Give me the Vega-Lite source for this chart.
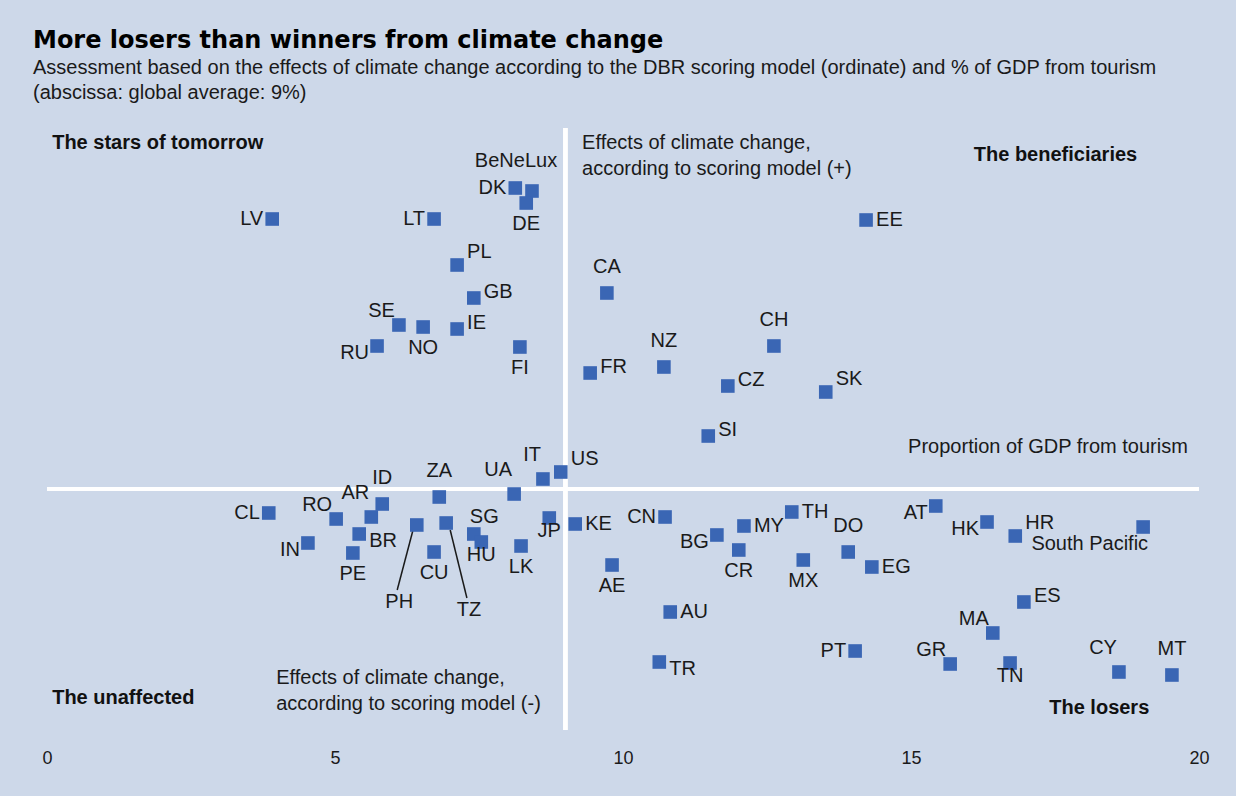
{
  "$schema": "https://vega.github.io/schema/vega-lite/v6.json",
  "width": 1152,
  "height": 602,
  "autosize": {"type": "none"},
  "padding": {"left": 47, "top": 128, "right": 37, "bottom": 66},
  "background": "#cdd8e9",
  "title": {
    "text": "More losers than winners from climate change",
    "subtitle": ["Assessment based on the effects of climate change according to the DBR scoring model (ordinate) and % of GDP from tourism", "(abscissa: global average: 9%)"],
    "anchor": "start",
    "frame": "group",
    "dx": -14,
    "offset": 23,
    "font": "DejaVu Sans",
    "fontSize": 24,
    "fontWeight": "bold",
    "color": "#000000",
    "subtitleFont": "Liberation Sans",
    "subtitleFontSize": 20,
    "subtitleColor": "#1a1a1a",
    "subtitleLineHeight": 25,
    "subtitlePadding": 5
  },
  "datasets": {
    "pts": [
      {"c":"LV","x":3.91,"y":27.0},
      {"c":"LT","x":6.72,"y":27.0},
      {"c":"DK","x":8.13,"y":30.1},
      {"c":"BeNeLux","x":8.42,"y":29.8},
      {"c":"DE","x":8.32,"y":28.6},
      {"c":"PL","x":7.12,"y":22.4},
      {"c":"GB","x":7.41,"y":19.1},
      {"c":"SE","x":6.11,"y":16.4},
      {"c":"NO","x":6.53,"y":16.2},
      {"c":"IE","x":7.12,"y":16.0},
      {"c":"RU","x":5.73,"y":14.3},
      {"c":"FI","x":8.21,"y":14.2},
      {"c":"FR","x":9.43,"y":11.6},
      {"c":"EE","x":14.22,"y":26.9},
      {"c":"CA","x":9.72,"y":19.6},
      {"c":"CH","x":12.62,"y":14.3},
      {"c":"NZ","x":10.71,"y":12.2},
      {"c":"CZ","x":11.82,"y":10.3},
      {"c":"SK","x":13.52,"y":9.7},
      {"c":"SI","x":11.48,"y":5.3},
      {"c":"US","x":8.92,"y":1.7},
      {"c":"IT","x":8.61,"y":1.0},
      {"c":"UA","x":8.11,"y":-0.5},
      {"c":"ZA","x":6.81,"y":-0.8},
      {"c":"ID","x":5.82,"y":-1.5},
      {"c":"AR","x":5.63,"y":-2.8},
      {"c":"RO","x":5.02,"y":-3.0},
      {"c":"CL","x":3.85,"y":-2.4},
      {"c":"JP","x":8.72,"y":-2.9},
      {"c":"KE","x":9.17,"y":-3.5},
      {"c":"PH","x":6.42,"y":-3.6},
      {"c":"TZ","x":6.93,"y":-3.4},
      {"c":"SG","x":7.41,"y":-4.5},
      {"c":"HU","x":7.54,"y":-5.3},
      {"c":"BR","x":5.42,"y":-4.5},
      {"c":"IN","x":4.53,"y":-5.4},
      {"c":"PE","x":5.31,"y":-6.4},
      {"c":"CU","x":6.72,"y":-6.3},
      {"c":"LK","x":8.23,"y":-5.7},
      {"c":"AE","x":9.81,"y":-7.6},
      {"c":"CN","x":10.73,"y":-2.8},
      {"c":"BG","x":11.63,"y":-4.6},
      {"c":"MY","x":12.10,"y":-3.7},
      {"c":"TH","x":12.93,"y":-2.3},
      {"c":"CR","x":12.01,"y":-6.1},
      {"c":"MX","x":13.13,"y":-7.1},
      {"c":"DO","x":13.91,"y":-6.3},
      {"c":"EG","x":14.32,"y":-7.8},
      {"c":"AU","x":10.82,"y":-12.3},
      {"c":"TR","x":10.63,"y":-17.3},
      {"c":"PT","x":14.03,"y":-16.2},
      {"c":"AT","x":15.43,"y":-1.7},
      {"c":"HK","x":16.32,"y":-3.3},
      {"c":"HR","x":16.81,"y":-4.7},
      {"c":"South Pacific","x":19.03,"y":-3.8},
      {"c":"ES","x":16.96,"y":-11.3},
      {"c":"MA","x":16.42,"y":-14.4},
      {"c":"GR","x":15.68,"y":-17.5},
      {"c":"TN","x":16.72,"y":-17.4},
      {"c":"CY","x":18.61,"y":-18.3},
      {"c":"MT","x":19.53,"y":-18.6}
    ],
    "leaders": [
      {"c":"PH","x":6.35,"y":-4.2,"x2":6.08,"y2":-10.1},
      {"c":"TZ","x":7.00,"y":-4.1,"x2":7.29,"y2":-10.9}
    ],
    "quads": [
      {"t":"The stars of tomorrow","x":0.09,"y":34.6},
      {"t":"The beneficiaries","x":16.09,"y":33.4},
      {"t":"The unaffected","x":0.09,"y":-20.9},
      {"t":"The losers","x":17.40,"y":-21.9}
    ],
    "notes": [
      {"t":"Effects of climate change,","x":9.29,"y":34.6},
      {"t":"according to scoring model (+)","x":9.29,"y":32.0},
      {"t":"Effects of climate change,","x":3.98,"y":-18.9},
      {"t":"according to scoring model (-)","x":3.98,"y":-21.5},
      {"t":"Proportion of GDP from tourism","x":14.95,"y":4.2}
    ]
  },
  "data": {"name": "pts"},
  "layer": [
    {
      "mark": {"type": "rule", "color": "#ffffff", "strokeWidth": 3.5},
      "encoding": {"x": {"datum": 9, "type": "quantitative", "scale": {"domain": [0, 20], "nice": false}, "title": null}}
    },
    {
      "mark": {"type": "rule", "color": "#ffffff", "strokeWidth": 3.5},
      "encoding": {"y": {"datum": 0, "type": "quantitative", "scale": {"domain": [-24.1, 36.1], "nice": false, "zero": false}, "axis": null}}
    },
    {
      "data": {"name": "leaders"},
      "mark": {"type": "rule", "color": "#1a1a1a", "strokeWidth": 1.5},
      "encoding": {
        "x": {"field": "x", "type": "quantitative", "title": null},
        "y": {"field": "y", "type": "quantitative", "axis": null},
        "x2": {"field": "x2"},
        "y2": {"field": "y2"}
      }
    },
    {
      "mark": {"type": "point", "shape": "square", "filled": true, "size": 185, "color": "#3a66b4", "opacity": 1},
      "encoding": {
        "x": {"field": "x", "type": "quantitative", "title": null, "axis": {"values": [0, 5, 10, 15, 20], "format": "d", "labelFlush": false}},
        "y": {"field": "y", "type": "quantitative", "axis": null}
      }
    },
    {
      "transform": [{"filter": {"field": "c", "oneOf": ["EE", "KE", "MY", "TH", "AU", "EG"]}}],
      "mark": {"type": "text", "align": "left", "baseline": "middle", "dx": 10, "dy": 0, "fontSize": 20, "color": "#1a1a1a"},
      "encoding": {"x": {"field": "x", "type": "quantitative", "title": null}, "y": {"field": "y", "type": "quantitative", "axis": null}, "text": {"field": "c"}}
    },
    {
      "transform": [{"filter": {"field": "c", "oneOf": ["CZ", "GB", "IE", "FR", "SI", "ES"]}}],
      "mark": {"type": "text", "align": "left", "baseline": "middle", "dx": 10, "dy": -6, "fontSize": 20, "color": "#1a1a1a"},
      "encoding": {"x": {"field": "x", "type": "quantitative", "title": null}, "y": {"field": "y", "type": "quantitative", "axis": null}, "text": {"field": "c"}}
    },
    {
      "transform": [{"filter": {"field": "c", "oneOf": ["PL", "SK", "HR", "US"]}}],
      "mark": {"type": "text", "align": "left", "baseline": "middle", "dx": 10, "dy": -13, "fontSize": 20, "color": "#1a1a1a"},
      "encoding": {"x": {"field": "x", "type": "quantitative", "title": null}, "y": {"field": "y", "type": "quantitative", "axis": null}, "text": {"field": "c"}}
    },
    {
      "transform": [{"filter": {"field": "c", "oneOf": ["BR", "TR"]}}],
      "mark": {"type": "text", "align": "left", "baseline": "middle", "dx": 10, "dy": 7, "fontSize": 20, "color": "#1a1a1a"},
      "encoding": {"x": {"field": "x", "type": "quantitative", "title": null}, "y": {"field": "y", "type": "quantitative", "axis": null}, "text": {"field": "c"}}
    },
    {
      "transform": [{"filter": {"field": "c", "oneOf": ["SG"]}}],
      "mark": {"type": "text", "align": "left", "baseline": "middle", "dx": -4, "dy": -17, "fontSize": 20, "color": "#1a1a1a"},
      "encoding": {"x": {"field": "x", "type": "quantitative", "title": null}, "y": {"field": "y", "type": "quantitative", "axis": null}, "text": {"field": "c"}}
    },
    {
      "transform": [{"filter": {"field": "c", "oneOf": ["LV", "LT", "DK", "CL", "CN", "PT"]}}],
      "mark": {"type": "text", "align": "right", "baseline": "middle", "dx": -9, "dy": 0, "fontSize": 20, "color": "#1a1a1a"},
      "encoding": {"x": {"field": "x", "type": "quantitative", "title": null}, "y": {"field": "y", "type": "quantitative", "axis": null}, "text": {"field": "c"}}
    },
    {
      "transform": [{"filter": {"field": "c", "oneOf": ["RU", "BG", "AT", "HK", "IN"]}}],
      "mark": {"type": "text", "align": "right", "baseline": "middle", "dx": -8, "dy": 7, "fontSize": 20, "color": "#1a1a1a"},
      "encoding": {"x": {"field": "x", "type": "quantitative", "title": null}, "y": {"field": "y", "type": "quantitative", "axis": null}, "text": {"field": "c"}}
    },
    {
      "transform": [{"filter": {"field": "c", "oneOf": ["SE", "GR", "RO", "MA"]}}],
      "mark": {"type": "text", "align": "right", "baseline": "middle", "dx": -4, "dy": -14, "fontSize": 20, "color": "#1a1a1a"},
      "encoding": {"x": {"field": "x", "type": "quantitative", "title": null}, "y": {"field": "y", "type": "quantitative", "axis": null}, "text": {"field": "c"}}
    },
    {
      "transform": [{"filter": {"field": "c", "oneOf": ["UA", "AR", "CY", "IT"]}}],
      "mark": {"type": "text", "align": "right", "baseline": "middle", "dx": -2, "dy": -24, "fontSize": 20, "color": "#1a1a1a"},
      "encoding": {"x": {"field": "x", "type": "quantitative", "title": null}, "y": {"field": "y", "type": "quantitative", "axis": null}, "text": {"field": "c"}}
    },
    {
      "transform": [{"filter": {"field": "c", "oneOf": ["CA", "CH", "NZ", "DO", "MT", "ZA", "ID"]}}],
      "mark": {"type": "text", "align": "center", "baseline": "middle", "dx": 0, "dy": -26, "fontSize": 20, "color": "#1a1a1a"},
      "encoding": {"x": {"field": "x", "type": "quantitative", "title": null}, "y": {"field": "y", "type": "quantitative", "axis": null}, "text": {"field": "c"}}
    },
    {
      "transform": [{"filter": {"field": "c", "oneOf": ["DE", "NO", "FI", "PE", "CU", "LK", "AE", "CR", "MX"]}}],
      "mark": {"type": "text", "align": "center", "baseline": "middle", "dx": 0, "dy": 21, "fontSize": 20, "color": "#1a1a1a"},
      "encoding": {"x": {"field": "x", "type": "quantitative", "title": null}, "y": {"field": "y", "type": "quantitative", "axis": null}, "text": {"field": "c"}}
    },
    {
      "transform": [{"filter": {"field": "c", "oneOf": ["JP", "HU", "TN"]}}],
      "mark": {"type": "text", "align": "center", "baseline": "middle", "dx": 0, "dy": 13, "fontSize": 20, "color": "#1a1a1a"},
      "encoding": {"x": {"field": "x", "type": "quantitative", "title": null}, "y": {"field": "y", "type": "quantitative", "axis": null}, "text": {"field": "c"}}
    },
    {
      "transform": [{"filter": {"field": "c", "oneOf": ["BeNeLux"]}}],
      "mark": {"type": "text", "align": "center", "baseline": "middle", "dx": -16, "dy": -30, "fontSize": 20, "color": "#1a1a1a"},
      "encoding": {"x": {"field": "x", "type": "quantitative", "title": null}, "y": {"field": "y", "type": "quantitative", "axis": null}, "text": {"field": "c"}}
    },
    {
      "transform": [{"filter": {"field": "c", "oneOf": ["South Pacific"]}}],
      "mark": {"type": "text", "align": "right", "baseline": "middle", "dx": 5, "dy": 17, "fontSize": 20, "color": "#1a1a1a"},
      "encoding": {"x": {"field": "x", "type": "quantitative", "title": null}, "y": {"field": "y", "type": "quantitative", "axis": null}, "text": {"field": "c"}}
    },
    {
      "data": {"name": "leaders"},
      "mark": {"type": "text", "align": "center", "baseline": "top", "dx": 2, "dy": 2, "fontSize": 20, "color": "#1a1a1a"},
      "encoding": {"x": {"field": "x2", "type": "quantitative", "title": null}, "y": {"field": "y2", "type": "quantitative", "axis": null}, "text": {"field": "c"}}
    },
    {
      "data": {"name": "quads"},
      "mark": {"type": "text", "align": "left", "baseline": "middle", "fontSize": 20, "fontWeight": "bold", "color": "#111111"},
      "encoding": {"x": {"field": "x", "type": "quantitative", "title": null}, "y": {"field": "y", "type": "quantitative", "axis": null}, "text": {"field": "t"}}
    },
    {
      "data": {"name": "notes"},
      "mark": {"type": "text", "align": "left", "baseline": "middle", "fontSize": 20, "color": "#1a1a1a"},
      "encoding": {"x": {"field": "x", "type": "quantitative", "title": null}, "y": {"field": "y", "type": "quantitative", "axis": null}, "text": {"field": "t"}}
    }
  ],
  "config": {
    "font": "Liberation Sans",
    "view": {"stroke": null},
    "axisX": {
      "domain": false,
      "ticks": false,
      "tickSize": 0,
      "grid": false,
      "labelFontSize": 18,
      "labelColor": "#1a1a1a",
      "labelPadding": 19,
      "labelFlush": false,
      "labelFont": "Liberation Sans"
    }
  }
}
